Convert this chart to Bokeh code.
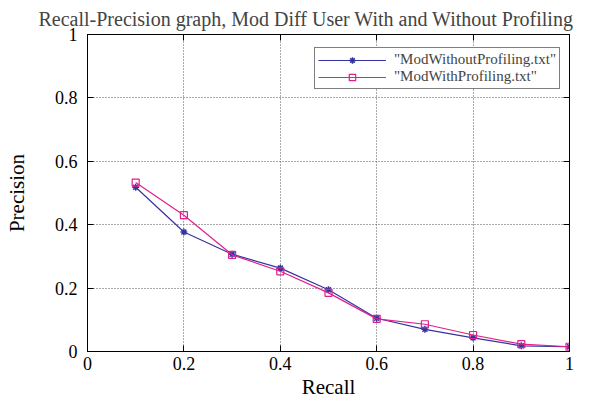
from bokeh.plotting import figure
from bokeh.models import LinearAxis, Range1d, Legend, LegendItem, FixedTicker, CustomJSTickFormatter
from bokeh.embed import file_html
from bokeh.resources import INLINE

recall = [0.1, 0.2, 0.3, 0.4, 0.5, 0.6, 0.7, 0.8, 0.9, 1.0]
without_prof = [0.518, 0.377, 0.307, 0.263, 0.195, 0.105, 0.070, 0.043, 0.018, 0.015]
with_prof = [0.533, 0.430, 0.305, 0.253, 0.185, 0.103, 0.086, 0.052, 0.023, 0.015]
x_ticks = [0, 0.2, 0.4, 0.6, 0.8, 1]
y_ticks = [0, 0.2, 0.4, 0.6, 0.8, 1]
series_names = ['"ModWithoutProfiling.txt"', '"ModWithProfiling.txt"']

FONT = "Liberation Serif"
BLUE = "#3434a0"
PINK = "#e0208c"

p = figure(width=595, height=403, output_backend="svg", toolbar_location=None,
           x_range=Range1d(0, 1), y_range=Range1d(0, 1),
           min_border_left=87, min_border_right=26, min_border_top=4, min_border_bottom=52,
           x_axis_label="Recall", y_axis_label="Precision")

p.title.text = "Recall-Precision graph, Mod Diff User With and Without Profiling"
p.title.text_font = FONT
p.title.text_font_style = "normal"
p.title.text_font_size = "20px"
p.title.align = "left"
p.title.offset = -49
p.title.standoff = 10

p.outline_line_color = "black"
p.outline_line_width = 1
p.background_fill_color = "white"
p.border_fill_color = "white"

fmt_code = "return tick == 0 ? '0' : (tick == 1 ? '1' : tick.toFixed(1));"

for ax in (p.xaxis[0], p.yaxis[0]):
    ax.major_tick_in = 6
    ax.major_tick_out = 0
    ax.minor_tick_in = 0
    ax.minor_tick_out = 0
    ax.axis_line_color = "black"
    ax.major_tick_line_color = "black"
    ax.formatter = CustomJSTickFormatter(code=fmt_code)
    ax.major_label_text_font = FONT
    ax.major_label_text_font_style = "normal"
    ax.major_label_text_font_size = "18px"
    ax.major_label_text_color = "black"
    ax.axis_label_text_font = FONT
    ax.axis_label_text_font_size = "21px"
    ax.axis_label_text_font_style = "normal"
    ax.axis_label_text_color = "black"

p.xaxis[0].ticker = FixedTicker(ticks=x_ticks)
p.xaxis[0].major_label_standoff = 5
p.xaxis[0].axis_label_standoff = 2
p.yaxis[0].ticker = FixedTicker(ticks=y_ticks)
p.yaxis[0].major_label_standoff = 10
p.yaxis[0].axis_label_standoff = 23
p.yaxis[0].major_label_orientation = "horizontal"

# mirrored axes (ticks only)
for loc, tk in (("right", y_ticks), ("above", x_ticks)):
    ax = LinearAxis(ticker=FixedTicker(ticks=tk), major_tick_in=6, major_tick_out=0,
                    minor_tick_in=0, minor_tick_out=0,
                    formatter=CustomJSTickFormatter(code="return '';"),
                    major_label_standoff=0,
                    axis_line_color="black", major_tick_line_color="black")
    p.add_layout(ax, loc)

for g in (p.xgrid[0], p.ygrid[0]):
    g.ticker = FixedTicker(ticks=[0.2, 0.4, 0.6, 0.8])
    g.grid_line_color = "#555555"
    g.grid_line_dash = "1 2"
    g.grid_line_width = 1

l1 = p.line(recall, without_prof, line_color=BLUE, line_width=1.2)
m1 = p.scatter(recall, without_prof, marker="asterisk", size=7, line_color=BLUE, line_width=1.5)
l2 = p.line(recall, with_prof, line_color=PINK, line_width=1.2)
m2 = p.scatter(recall, with_prof, marker="square", size=7, line_color=PINK, fill_color=None, line_width=1.2)

legend = Legend(items=[LegendItem(label=series_names[0], renderers=[l1, m1]),
                       LegendItem(label=series_names[1], renderers=[l2, m2])],
                location=(227, 262), orientation="vertical")
legend.label_text_font = FONT
legend.label_text_font_size = "15px"
legend.border_line_color = "black"
legend.border_line_width = 1
legend.background_fill_alpha = 1
legend.padding = 3
legend.spacing = 0
legend.margin = 0
legend.label_height = 16
legend.glyph_height = 16
legend.glyph_width = 68
legend.label_standoff = 8
p.add_layout(legend, "center")

open("out.html", "w").write(file_html(p, INLINE))
